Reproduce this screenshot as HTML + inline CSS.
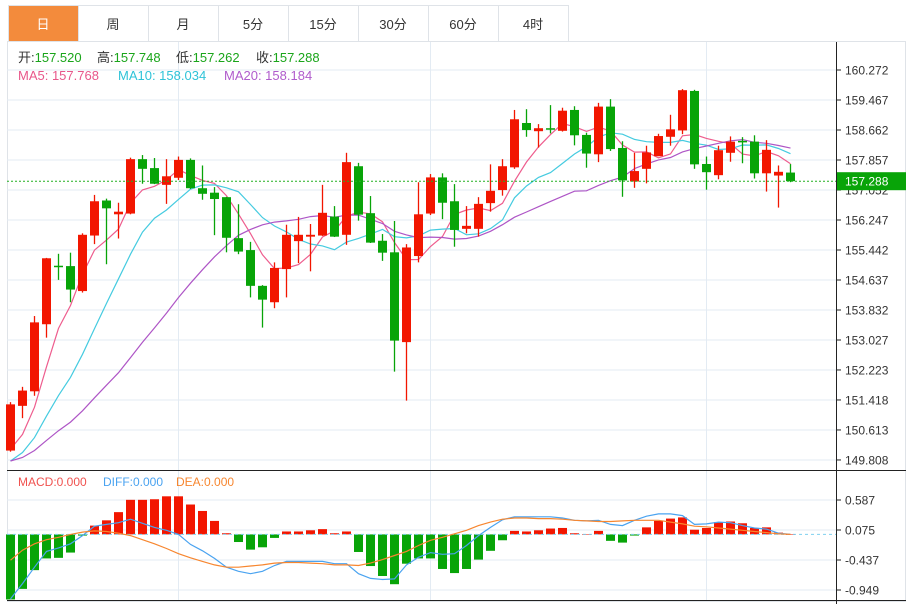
<!DOCTYPE html>
<html><head><meta charset="utf-8">
<style>
html,body{margin:0;padding:0;background:#fff;}
body{width:914px;height:604px;overflow:hidden;font-family:"Liberation Sans","Noto Sans CJK SC",sans-serif;}
svg text{font-family:"Liberation Sans","Noto Sans CJK SC",sans-serif;}
</style></head>
<body>
<svg id="chart" width="914" height="604" viewBox="0 0 914 604" xmlns="http://www.w3.org/2000/svg">
  <rect x="0" y="0" width="914" height="604" fill="#fff"/>
  <g id="tabs"></g>
  <g id="grid"></g>
  <g id="ma"></g>
  <g id="candles"></g>
  <g id="macd"></g>
  <g id="axis"></g>
  <g font-size="13">
    <text x="18" y="62" fill="#333">开:<tspan fill="#1aa51a">157.520</tspan></text>
    <text x="97" y="62" fill="#333">高:<tspan fill="#1aa51a">157.748</tspan></text>
    <text x="176" y="62" fill="#333">低:<tspan fill="#1aa51a">157.262</tspan></text>
    <text x="256" y="62" fill="#333">收:<tspan fill="#1aa51a">157.288</tspan></text>
  </g>
  <g font-size="13">
    <text x="18" y="80" fill="#e8578a">MA5: 157.768</text>
    <text x="118" y="80" fill="#2fc3d8">MA10: 158.034</text>
    <text x="224" y="80" fill="#b05ccc">MA20: 158.184</text>
  </g>
  <g font-size="12">
    <text x="18" y="486" fill="#f0524f">MACD:0.000</text>
    <text x="103" y="486" fill="#4aa3f0">DIFF:0.000</text>
    <text x="176" y="486" fill="#f7862f">DEA:0.000</text>
  </g>
</svg>
<script>
const tabLabels = ["日","周","月","5分","15分","30分","60分","4时"];
const priceTicks = [160.272,159.467,158.662,157.857,157.052,156.247,155.442,154.637,153.832,153.027,152.223,151.418,150.613,149.808];
const macdTicks = [0.587,0.075,-0.437,-0.949];
const opens  = [150.06,151.26,151.65,153.45,155.02,155.01,154.34,155.83,156.77,156.40,156.42,157.88,157.64,157.19,157.38,157.86,157.10,156.98,156.86,155.76,155.44,154.48,154.04,154.93,155.68,155.80,155.83,156.34,155.85,157.69,156.43,155.69,155.38,152.97,155.28,156.42,157.39,156.75,156.01,156.01,156.70,157.05,157.66,158.85,158.63,158.71,158.64,159.20,158.53,158.01,159.29,158.18,157.28,157.62,157.96,158.48,158.65,159.71,157.75,157.45,158.05,158.37,158.35,157.50,157.44,157.520];
const highs  = [151.36,151.77,153.67,155.23,155.34,155.37,155.89,156.92,156.82,156.71,157.92,157.99,157.91,157.88,157.95,157.90,157.71,157.13,156.87,156.67,155.66,154.50,155.11,156.12,156.33,156.14,157.19,156.62,158.05,157.78,156.89,155.87,156.22,155.60,157.26,157.48,157.50,157.21,156.62,156.86,157.74,157.88,159.20,159.22,158.82,159.33,159.26,159.30,158.59,159.39,159.49,158.36,158.05,158.24,158.56,159.07,159.76,159.74,157.95,158.24,158.49,158.47,158.52,158.39,157.71,157.748];
const lows   = [150.03,150.93,151.53,153.09,154.64,154.04,154.30,155.60,155.06,155.75,156.40,157.22,157.21,156.68,157.32,157.08,156.79,155.84,155.38,155.33,154.17,153.36,153.88,154.17,155.09,154.87,155.82,155.79,155.58,156.23,155.63,155.15,152.18,151.40,155.11,156.38,156.27,155.53,155.89,155.80,156.47,156.90,157.62,158.48,158.19,158.57,158.62,158.25,157.65,157.80,158.10,156.87,157.11,157.23,157.96,158.24,158.55,157.62,157.06,157.34,157.81,157.77,157.36,157.01,156.58,157.262];
const closes = [151.30,151.67,153.50,155.22,155.00,154.38,155.85,156.75,156.56,156.47,157.88,157.62,157.22,157.42,157.86,157.10,156.95,156.81,155.77,155.40,154.48,154.11,154.96,155.85,155.85,155.85,156.44,155.80,157.80,156.39,155.64,155.37,153.01,155.51,156.40,157.39,156.71,155.98,156.09,156.68,157.03,157.69,158.95,158.66,158.71,158.68,159.18,158.52,158.03,159.29,158.15,157.31,157.56,158.06,158.50,158.68,159.73,157.74,157.53,158.12,158.35,158.33,157.50,158.13,157.54,157.288];
const priorCloses = [149.8,149.75,149.8,149.78,149.76,149.8,149.78,149.79,149.77,149.78,149.4,149.5,149.45,149.5,149.45,149.7,149.85,149.8,149.85];
const macdBars = [-1.11,-0.93,-0.61,-0.41,-0.40,-0.31,-0.02,0.15,0.24,0.38,0.59,0.59,0.60,0.65,0.65,0.51,0.40,0.23,0.02,-0.13,-0.26,-0.22,-0.06,0.05,0.05,0.07,0.09,0.02,0.05,-0.30,-0.54,-0.71,-0.85,-0.50,-0.41,-0.41,-0.59,-0.66,-0.59,-0.43,-0.28,-0.10,0.06,0.05,0.07,0.10,0.11,0.02,0.0,0.06,-0.11,-0.14,-0.02,0.12,0.23,0.27,0.29,0.08,0.11,0.21,0.22,0.19,0.11,0.12,0.03,0.0];
const diffVals = [-1.10,-0.84,-0.56,-0.29,-0.23,-0.16,-0.02,0.14,0.17,0.20,0.26,0.19,0.12,0.07,0,-0.17,-0.28,-0.41,-0.56,-0.63,-0.67,-0.63,-0.53,-0.46,-0.46,-0.46,-0.46,-0.50,-0.50,-0.67,-0.75,-0.77,-0.76,-0.52,-0.39,-0.31,-0.34,-0.33,-0.19,-0.02,0.12,0.25,0.30,0.30,0.30,0.30,0.28,0.24,0.23,0.24,0.17,0.15,0.24,0.31,0.35,0.35,0.32,0.17,0.18,0.21,0.20,0.15,0.11,0.09,0.02,0.00];
const deaVals = [-0.44,-0.27,-0.16,-0.09,-0.05,0,0.04,0.06,0.05,0.02,-0.02,-0.09,-0.16,-0.24,-0.33,-0.40,-0.46,-0.52,-0.56,-0.56,-0.54,-0.52,-0.49,-0.48,-0.48,-0.49,-0.50,-0.52,-0.52,-0.53,-0.49,-0.43,-0.36,-0.29,-0.19,-0.10,-0.05,0.01,0.07,0.15,0.21,0.26,0.28,0.28,0.27,0.27,0.26,0.24,0.23,0.22,0.22,0.23,0.24,0.24,0.24,0.21,0.18,0.14,0.13,0.11,0.09,0.07,0.05,0.03,0.01,0];
const lastPrice = 157.288;

const NS = "http://www.w3.org/2000/svg";
function mk(parent, tag, attrs){const e=document.createElementNS(NS,tag);for(const k in attrs)e.setAttribute(k,attrs[k]);parent.appendChild(e);return e;}
const X = i => 10.5 + 12*i;
const Y = v => 70 + (160.272 - v)/0.805*30;
const MY = v => 534.4 - v*58.6;
const RED="#f21600", GREEN="#08a408";

// tabs
const tabs=document.getElementById('tabs');
tabLabels.forEach((t,i)=>{
  const r=mk(tabs,'rect',{x:8+70*i+0.5,y:5.5,width:70,height:36,fill:i===0?'#f38b3c':'#fff',stroke:'#dfe3e8'});
  
  
  const tx=mk(tabs,'text',{x:8+70*i+35,y:29,'text-anchor':'middle','font-size':13,fill:i===0?'#fff':'#333'});
  tx.textContent=t;
  
  
});

// grid
const grid=document.getElementById('grid');
mk(grid,'rect',{x:7.5,y:41.5,width:898,height:560,fill:'none',stroke:'#dfe3e8'});
priceTicks.forEach(v=>mk(grid,'line',{x1:7,x2:836,y1:Y(v),y2:Y(v),stroke:'#e3ebf3'}));
macdTicks.forEach(v=>{const y=Math.round(MY(v));mk(grid,'line',{x1:7,x2:836,y1:y,y2:y,stroke:'#e3ebf3'});});
[178.5,430.5,706.5].forEach(x=>mk(grid,'line',{x1:x,x2:x,y1:42,y2:600,stroke:'#e3ebf3'}));

// MA
const allCloses = priorCloses.concat(closes);
function ma(n){return closes.map((c,i)=>{const k=i+priorCloses.length;let s=0,m=0;for(let j=k;j>k-n&&j>=0;j--){s+=allCloses[j];m++;}return s/m;});}
const maG=document.getElementById('ma');
[[5,'#ee5d8e'],[10,'#45cbe0'],[20,'#ae55c6']].forEach(([n,c])=>{
  const vals=ma(n);
  const p=mk(maG,'polyline',{points:vals.map((v,i)=>X(i)+','+Y(v).toFixed(1)).join(' '),fill:'none',stroke:c,'stroke-width':1.2});
  
  
});

// candles
const cg=document.getElementById('candles');
closes.forEach((c,i)=>{
  const o=opens[i], up=c>=o, col=up?RED:GREEN, x=X(i);
  const g=mk(cg,'g',{});
  
  
  mk(g,'line',{x1:x,x2:x,y1:Y(highs[i]),y2:Y(lows[i]),stroke:col,'stroke-width':1.3});
  const t=Y(Math.max(o,c)), b=Y(Math.min(o,c));
  mk(g,'rect',{x:x-4.5,y:t,width:9,height:Math.max(b-t,1.5),fill:col});
});

// last price line
mk(cg,'line',{x1:7,x2:836,y1:Y(lastPrice),y2:Y(lastPrice),stroke:'#22b022','stroke-dasharray':'2,2'});

// macd
const mg=document.getElementById('macd');
mk(mg,'line',{x1:7,x2:906,y1:470.5,y2:470.5,stroke:'#222'});
mk(mg,'line',{x1:7,x2:906,y1:600.5,y2:600.5,stroke:'#222'});
macdBars.forEach((v,i)=>{
  const y0=MY(0), y1=MY(v);
  const r=mk(mg,'rect',{x:X(i)-4.5,y:Math.min(y0,y1),width:9,height:Math.max(Math.abs(y1-y0),0.5),fill:v>=0?RED:GREEN});
  
  
});
mk(mg,'line',{x1:7,x2:836,y1:MY(0),y2:MY(0),stroke:'#7fd0ef','stroke-dasharray':'3,3'});
const dl=mk(mg,'polyline',{points:diffVals.map((v,i)=>X(i)+','+MY(v).toFixed(1)).join(' '),fill:'none',stroke:'#4aa3f0','stroke-width':1.2});


const el=mk(mg,'polyline',{points:deaVals.map((v,i)=>X(i)+','+MY(v).toFixed(1)).join(' '),fill:'none',stroke:'#f7862f','stroke-width':1.2});



// axis
const ax=document.getElementById('axis');
mk(ax,'line',{x1:836.5,x2:836.5,y1:42,y2:604,stroke:'#222'});
priceTicks.forEach(v=>{
  mk(ax,'line',{x1:836,x2:841,y1:Y(v),y2:Y(v),stroke:'#222'});
  const t=mk(ax,'text',{x:845,y:Y(v)+4.5,'font-size':12,fill:'#333'});
  t.textContent=v.toFixed(3);
  
  
});
macdTicks.forEach(v=>{
  const y=Math.round(MY(v));
  mk(ax,'line',{x1:836,x2:841,y1:y,y2:y,stroke:'#222'});
  const t=mk(ax,'text',{x:845,y:y+4.5,'font-size':12,fill:'#333'});
  t.textContent=v.toFixed(3);
  
  
});
const lb=mk(ax,'rect',{x:837,y:Y(lastPrice)-9,width:69,height:18,fill:'#08a408'});


const lt=mk(ax,'text',{x:845,y:Y(lastPrice)+4.5,'font-size':12,fill:'#fff'});
lt.textContent=lastPrice.toFixed(3);


</script>
</body></html>
